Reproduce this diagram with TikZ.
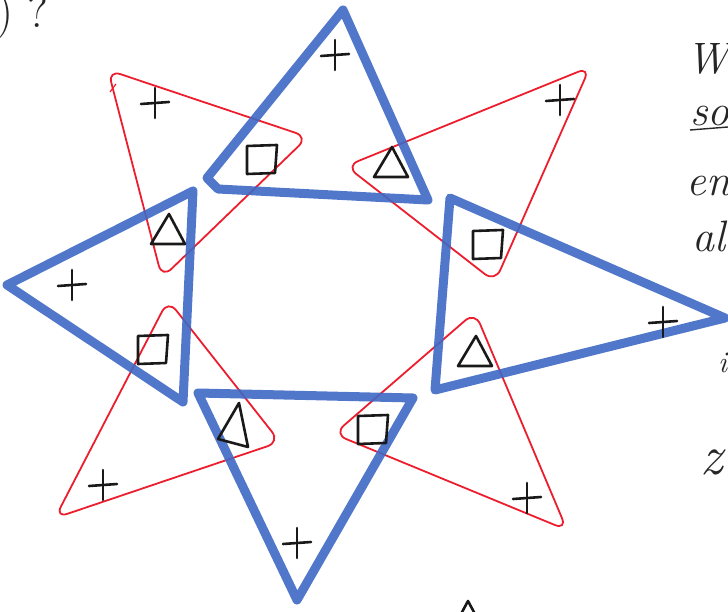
\documentclass[tikz,border=0pt]{standalone}
\definecolor{mblue}{RGB}{62,104,196}
\definecolor{mred}{RGB}{236,30,46}
\begin{document}
\begin{tikzpicture}[x=1pt,y=-1pt,
  bluetri/.style={draw=mblue, line width=9pt, line join=round, line cap=round, draw opacity=0.9},
  redtri/.style={draw=mred, line width=1.8pt, rounded corners=13pt},
  sym/.style={draw=black!90, line width=2.6pt, line cap=round, line join=round},
  hand/.style={font=\itshape\fontsize{44}{44}\selectfont, text=black!85, anchor=base west, inner sep=0pt},
  sqmark/.pic={\draw[sym] (-15,-14) -- (15,-15) -- (13,13) -- (-15,14) -- cycle;},
  trimark/.pic={\draw[sym] (1,-16) -- (17,14) -- (-17,14) -- cycle;},
  plusmark/.pic={\draw[sym] (-14,1) -- (14,-1); \draw[sym] (0,-15) -- (0,15);}
]
\useasboundingbox (0,0) rectangle (728,612);
\clip (0,0) rectangle (728,612);

% red triangles
\draw[redtri] (108,70) -- (308,137) -- (162,278) -- cycle;
\draw[mred, line width=1.2pt] (110,92) -- (116,84);
\draw[redtri] (590,67) -- (495,282) -- (346,166) -- cycle;
\draw[redtri] (168,300) -- (280,442) -- (55,518) -- cycle;
\draw[redtri] (475,312) -- (567,530) -- (334,434) -- cycle;

% blue triangles
\draw[bluetri] (343,10) -- (207,178) -- (218,189) -- (428,200) -- cycle;
\draw[bluetri] (7,285) -- (193,191) -- (183,402) -- cycle;
\draw[bluetri] (450,198) -- (725,318) -- (435,390) -- cycle;
\draw[bluetri] (198,393) -- (413,398) -- (297,600) -- cycle;

% symbols: top blue
\pic at (335,55) {plusmark};
\pic at (262,160) {sqmark};
\pic at (391,163) {trimark};
% left blue
\pic at (168,230) {trimark};
\pic at (72,285) {plusmark};
\pic at (153,350) {sqmark};
% right blue
\pic at (488,245) {sqmark};
\pic at (663,322) {plusmark};
\pic at (475,352) {trimark};
% bottom blue
\draw[sym] (218,439) -- (239,403) -- (248,447) -- cycle;
\pic at (373,430) {sqmark};
\pic at (297,543) {plusmark};
% red plus signs
\pic at (155,103) {plusmark};
\pic at (560,100) {plusmark};
\pic at (103,485) {plusmark};
\pic at (527,498) {plusmark};

% handwriting fragments
\node[hand, font=\fontsize{48}{48}\selectfont] (q) at (-4,28) {)\hspace{14pt}?};
\node[hand] (w) at (686,74) {W};
\node[hand] (so) at (690,126) {so};
\draw[black!85, line width=1.4pt] (690,130) -- (728,127);
\node[hand] (en) at (686,196) {en};
\node[hand] (al) at (692,252) {al};
\node[hand, font=\itshape\fontsize{30}{30}\selectfont] (i) at (718,372) {i};
\node[hand, font=\itshape\fontsize{56}{56}\selectfont] (z) at (700,474) {z};
\draw[sym] (461,614) -- (468,601) -- (475,614);
\end{tikzpicture}
\end{document}
